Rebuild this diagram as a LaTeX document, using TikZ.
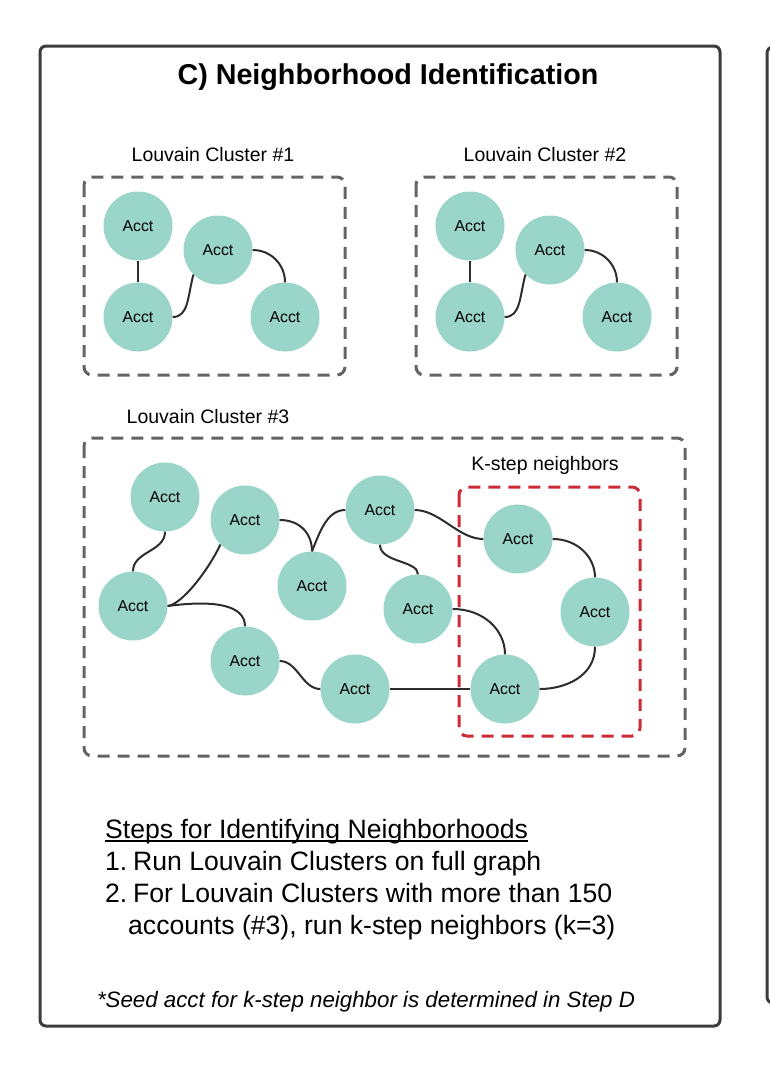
\documentclass[tikz,border=0pt]{standalone}
\usepackage{fontspec}
\setmainfont{Liberation Sans}
\usetikzlibrary{calc}

\definecolor{acctfill}{RGB}{154,213,202}
\definecolor{boxgray}{RGB}{100,100,100}
\definecolor{framegray}{RGB}{60,60,60}
\definecolor{kred}{RGB}{204,43,54}
\definecolor{linkgray}{RGB}{45,45,45}

\begin{document}
\begin{tikzpicture}[x=1pt,y=-1pt,
  acct/.style={circle,fill=acctfill,minimum size=69pt,inner sep=0pt,font=\fontsize{15.8}{18}\selectfont},
  link/.style={line width=2pt,color=linkgray},
  cluster/.style={dash pattern=on 12pt off 8pt,line width=3pt,color=boxgray,rounded corners=8pt},
  kbox/.style={dash pattern=on 12pt off 8pt,line width=3pt,color=kred,rounded corners=8pt},
  clabel/.style={inner sep=0pt,font=\fontsize{19.5}{23}\selectfont},
  steps/.style={inner sep=0pt,anchor=base west,font=\fontsize{26.6}{32}\selectfont}]
\useasboundingbox (0,0) rectangle (770,1076);
\draw[line width=3pt,color=framegray,rounded corners=6pt] (40,46) rectangle (720,1026);
\draw[line width=3pt,color=framegray,rounded corners=6pt] (767,47) rectangle (830,1003);
\node[inner sep=0pt,font=\fontsize{28.7}{34}\selectfont\bfseries] (title) at (388,77) {C) Neighborhood Identification};
\begin{scope}[shift={(0,0)}]
  \draw[cluster] (84,177) rectangle (345,375);
  \node[clabel] (lc1) at (213,155) {Louvain Cluster \#1};
  \node[acct] (p1) at (138,226) {Acct};
  \node[acct] (p2) at (138,317) {Acct};
  \node[acct] (p3) at (218,250) {Acct};
  \node[acct] (p4) at (285,317) {Acct};
  \draw[link] (p1) -- (p2);
  \draw[link] (p2.east) .. controls +(16,0) and +(-6,22) .. (p3.south west);
  \draw[link] (p3.east) .. controls +(18,0) and +(0,-18) .. (p4.north);
\end{scope}
\begin{scope}[shift={(332,0)}]
  \draw[cluster] (84,177) rectangle (345,375);
  \node[clabel] (lc2) at (213,155) {Louvain Cluster \#2};
  \node[acct] (q1) at (138,226) {Acct};
  \node[acct] (q2) at (138,317) {Acct};
  \node[acct] (q3) at (218,250) {Acct};
  \node[acct] (q4) at (285,317) {Acct};
  \draw[link] (q1) -- (q2);
  \draw[link] (q2.east) .. controls +(16,0) and +(-6,22) .. (q3.south west);
  \draw[link] (q3.east) .. controls +(18,0) and +(0,-18) .. (q4.north);
\end{scope}
\begin{scope}[shift={(0,0)}]
  \draw[cluster] (84,438) rectangle (685,756);
  \node[clabel] (lc3) at (208,417) {Louvain Cluster \#3};
  \draw[kbox] (459,487) rectangle (640,736);
  \node[clabel] (ks) at (545,465) {K-step neighbors};
  \node[acct] (n1) at (165,497) {Acct};
  \node[acct] (n2) at (245,520) {Acct};
  \node[acct] (n3) at (380,510) {Acct};
  \node[acct] (n4) at (518,539) {Acct};
  \node[acct] (n5) at (133,606) {Acct};
  \node[acct] (n6) at (312,586) {Acct};
  \node[acct] (n7) at (418,609) {Acct};
  \node[acct] (n8) at (595,612) {Acct};
  \node[acct] (n9) at (245,661) {Acct};
  \node[acct] (n10) at (355,689) {Acct};
  \node[acct] (n11) at (505,689) {Acct};
  \draw[link] (n1.south) .. controls +(0,20) and +(0,-20) .. (n5.north);
  \draw[link] (n5.east) .. controls +(15,-2) and +(-12,25) .. (n2.south west);
  \draw[link] (n5.east) .. controls +(45,-6) and +(0,-22) .. (n9.north);
  \draw[link] (n2.east) .. controls +(20,0) and +(0,-18) .. (n6.north);
  \draw[link] (n6.north) .. controls +(8,-20) and +(-18,0) .. (n3.west);
  \draw[link] (n3.south) .. controls +(0,18) and +(0,-14) .. (n7.north);
  \draw[link] (n3.east) .. controls +(25,0) and +(-25,0) .. (n4.west);
  \draw[link] (n4.east) .. controls +(25,0) and +(0,-20) .. (n8.north);
  \draw[link] (n8.south) .. controls +(0,30) and +(25,0) .. (n11.east);
  \draw[link] (n7.east) .. controls +(30,0) and +(0,-25) .. (n11.north);
  \draw[link] (n9.east) .. controls +(18,0) and +(-18,0) .. (n10.west);
  \draw[link] (n10.east) -- (n11.west);
\end{scope}
\node[steps] (head) at (105,838) {Steps for Identifying Neighborhoods};
\draw[line width=1.5pt] ($(head.base west)+(0,3)$) -- ($(head.base east)+(0,3)$);
\node[steps] (s1n) at (105,870) {1.};
\node[steps] (s1) at (133,870) {Run Louvain Clusters on full graph};
\node[steps] (s2n) at (105,902) {2.};
\node[steps] (s2) at (133,902) {For Louvain Clusters with more than 150};
\node[steps] (s2b) at (128,934) {accounts (\#3), run k-step neighbors (k=3)};
\node[inner sep=0pt,anchor=base,font=\fontsize{22.3}{26}\selectfont\itshape] (seed) at (366,1007) {*Seed acct for k-step neighbor is determined in Step D};
\end{tikzpicture}
\end{document}
